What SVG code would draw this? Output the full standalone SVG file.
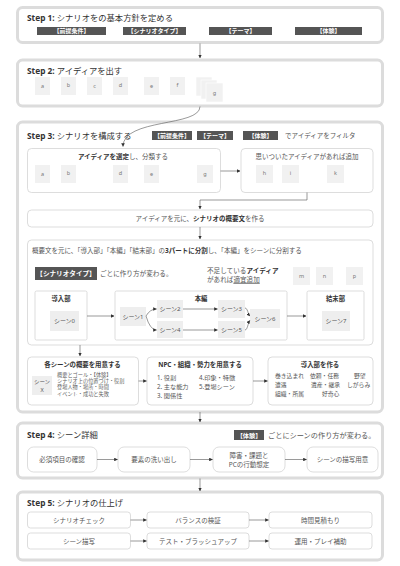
<svg xmlns="http://www.w3.org/2000/svg" width="400" height="566" viewBox="0 0 400 566">
<defs>
<marker id="ah" viewBox="0 0 6 6" refX="5.5" refY="3" markerWidth="3.6" markerHeight="3.6" markerUnits="userSpaceOnUse" orient="auto">
<path d="M0,0 L6,3 L0,6 Z" fill="#333"/>
</marker>
<style>
text{font-family:"Noto Sans","Noto Sans CJK JP",sans-serif;fill:#555}
.step{fill:#fff;stroke:#dcdcdc;stroke-width:3}
.box{fill:#fff;stroke:#cfcfcf;stroke-width:0.7}
.rbox{fill:#fff;stroke:#cfcfcf;stroke-width:0.7}
.card{fill:#f1f1f1}
.scard{fill:#eeeeee}
.tag{fill:#555}
.tagt{fill:#fff;font-weight:bold;text-anchor:middle}
.st{font-size:8.3px;fill:#333}
.stb{font-weight:bold}
.lt{font-size:5.5px;fill:#777;text-anchor:middle}
.t65{font-size:6.5px}
.c{text-anchor:middle}
.b{font-weight:bold;fill:#333}
.sm{font-family:"Liberation Sans","Noto Sans CJK JP",sans-serif;font-size:5.2px;fill:#666}
.con{fill:none;stroke:#555;stroke-width:0.6;marker-end:url(#ah)}
</style>
</defs>
<rect width="400" height="566" fill="#fff"/>

<!-- Step 1 -->
<g id="step1">
<rect class="step" x="17.5" y="7.5" width="365" height="35" rx="5"/>
<text class="st" x="27" y="21"><tspan class="stb">Step 1:</tspan> シナリオをの基本方針を定める</text>
<rect class="tag" x="37" y="27" width="69" height="8"/>
<text class="tagt" x="71.5" y="33.2" font-size="6">【前提条件】</text>
<rect class="tag" x="123" y="27" width="63" height="8"/>
<text class="tagt" x="154.5" y="33.2" font-size="6">【シナリオタイプ】</text>
<rect class="tag" x="209" y="27" width="63" height="8"/>
<text class="tagt" x="240.5" y="33.2" font-size="6">【テーマ】</text>
<rect class="tag" x="295" y="27" width="67" height="8"/>
<text class="tagt" x="328.5" y="33.2" font-size="6">【体験】</text>
</g>

<!-- Step 2 -->
<g id="step2">
<rect class="step" x="17.5" y="60" width="365" height="46" rx="5"/>
<text class="st" x="27" y="74"><tspan class="stb">Step 2:</tspan> アイディアを出す</text>
<rect class="card" x="35" y="77" width="15" height="18"/><text class="lt" x="42.5" y="88">a</text>
<rect class="card" x="61" y="77" width="15" height="18"/><text class="lt" x="68.5" y="87">b</text>
<rect class="card" x="87" y="77" width="15" height="18"/><text class="lt" x="94.5" y="88">c</text>
<rect class="card" x="113" y="77" width="15" height="18"/><text class="lt" x="120.5" y="87">d</text>
<rect class="card" x="144" y="77" width="15" height="18"/><text class="lt" x="151.5" y="88">e</text>
<rect class="card" x="170" y="77" width="15" height="18"/><text class="lt" x="177.5" y="87">f</text>
<rect class="card" x="196" y="77" width="16" height="19" stroke="#fff" stroke-width="0.6"/>
<rect class="card" x="201" y="80" width="16" height="19" stroke="#fff" stroke-width="0.6"/>
<rect class="card" x="206" y="83" width="17" height="19" stroke="#fff" stroke-width="0.6"/>
<text class="lt" x="214.5" y="95">g</text>
</g>

<!-- Step 3 -->
<g id="step3">
<rect class="step" x="17.5" y="122" width="365" height="290" rx="5"/>
<text class="st" x="27" y="139"><tspan class="stb">Step 3:</tspan> シナリオを構成する</text>
<rect class="tag" x="152" y="131" width="40" height="9"/>
<text class="tagt" x="172" y="137.8" font-size="6">【前提条件】</text>
<rect class="tag" x="197" y="131" width="36" height="9"/>
<text class="tagt" x="215" y="137.8" font-size="6">【テーマ】</text>
<rect class="tag" x="243" y="131" width="35" height="9"/>
<text class="tagt" x="260.5" y="137.8" font-size="6">【体験】</text>
<text class="t65" x="285" y="138.3" fill="#666">でアイディアをフィルタ</text>
</g>

<g id="select-box">
<rect class="box" x="27.5" y="148.5" width="193" height="44" rx="4"/>
<text class="t65 c" x="123" y="159"><tspan class="b">アイディアを選定</tspan>し、分類する</text>
<rect class="card" x="35" y="165" width="15" height="18"/><text class="lt" x="42.5" y="176">a</text>
<rect class="card" x="61" y="165" width="15" height="18"/><text class="lt" x="68.5" y="175">b</text>
<rect class="card" x="113" y="165" width="15" height="18"/><text class="lt" x="120.5" y="175">d</text>
<rect class="card" x="144" y="165" width="15" height="18"/><text class="lt" x="151.5" y="176">e</text>
<rect class="card" x="197" y="165" width="16" height="18"/><text class="lt" x="205" y="176">g</text>
</g>

<g id="add-box">
<rect class="box" x="241" y="148.5" width="132" height="44" rx="4"/>
<text class="t65 c" x="307" y="159" fill="#666">思いついたアイディアがあれば追加</text>
<rect class="card" x="256" y="165" width="17" height="18"/><text class="lt" x="264.5" y="175">h</text>
<rect class="card" x="282" y="165" width="17" height="18"/><text class="lt" x="290.5" y="175">i</text>
<rect class="card" x="327" y="165" width="17" height="18"/><text class="lt" x="335.5" y="175">k</text>
</g>

<g id="summary-box">
<rect class="box" x="27.5" y="210" width="345.5" height="17" rx="4"/>
<text class="t65 c" x="200" y="220.8">アイディアを元に、<tspan class="b">シナリオの概要文</tspan>を作る</text>
</g>

<g id="split-box">
<rect class="box" x="27.5" y="240" width="345.5" height="105" rx="4"/>
<text x="32" y="252.5" font-size="6.5">概要文を元に、「導入部」「本編」「結末部」の<tspan class="b">3パートに分割</tspan>し、「本編」をシーンに分割する</text>
<rect class="tag" x="35" y="267" width="62" height="13"/>
<text class="tagt" x="66" y="276" font-size="6.6">【シナリオタイプ】</text>
<text x="100" y="276.3" font-size="6.6" fill="#666">ごとに作り方が変わる。</text>
<text x="207" y="272.5" font-size="6.6" fill="#666">不足している<tspan class="b">アイディア</tspan></text>
<text x="207" y="282" font-size="6.6" fill="#666">があれば<tspan text-decoration="underline">適宜追加</tspan></text>
<rect class="card" x="293" y="267" width="17" height="18"/><text class="lt" x="301.5" y="277.5">m</text>
<rect class="card" x="316" y="267" width="17" height="18"/><text class="lt" x="324.5" y="277.5">n</text>
<rect class="card" x="346" y="267" width="17" height="18"/><text class="lt" x="354.5" y="277.5">p</text>
</g>

<g id="intro">
<rect class="box" x="35" y="291" width="52" height="49" rx="1.5"/>
<text class="c b" x="61" y="300.5" font-size="6.3">導入部</text>
<rect class="scard" x="50" y="311" width="29" height="20"/>
<text class="c" x="64.5" y="323" font-size="6" fill="#666">シーン0</text>
</g>

<g id="main">
<rect class="box" x="115" y="291" width="172" height="49" rx="1.5"/>
<text class="c b" x="201" y="300.5" font-size="6.3">本編</text>
<rect class="scard" x="120" y="307" width="26" height="19"/>
<text class="c" x="133" y="318.5" font-size="6" fill="#666">シーン1</text>
<rect class="scard" x="157" y="300" width="26" height="18"/>
<text class="c" x="170" y="311" font-size="6" fill="#666">シーン2</text>
<rect class="scard" x="157" y="321" width="26" height="17"/>
<text class="c" x="170" y="331.8" font-size="6" fill="#666">シーン4</text>
<rect class="scard" x="218" y="300" width="27" height="18"/>
<text class="c" x="231.5" y="311" font-size="6" fill="#666">シーン3</text>
<rect class="scard" x="218" y="321" width="27" height="17"/>
<text class="c" x="231.5" y="331.8" font-size="6" fill="#666">シーン5</text>
<rect class="scard" x="250" y="309" width="30" height="19"/>
<text class="c" x="265" y="320.5" font-size="6" fill="#666">シーン6</text>
</g>

<g id="ending">
<rect class="box" x="307" y="291" width="57" height="49" rx="1.5"/>
<text class="c b" x="335.5" y="300.5" font-size="6.3">結末部</text>
<rect class="scard" x="322" y="311" width="28" height="20"/>
<text class="c" x="336" y="323" font-size="6" fill="#666">シーン7</text>
</g>

<g id="scene-outline">
<rect class="box" x="27.5" y="357" width="111" height="48" rx="4"/>
<text class="c b" x="82.5" y="366.5" font-size="6.4">各シーンの概要を用意する</text>
<rect class="scard" x="32" y="376" width="20" height="19"/>
<text class="c" x="42" y="384" font-size="5.5" fill="#666">シーン</text>
<text class="c" x="42" y="391.5" font-size="5.5" fill="#666">X</text>
<text class="sm" x="57" y="377">概要とゴール・【体験】</text>
<text class="sm" x="57" y="383.2">シナリオ上の位置づけ・役割</text>
<text class="sm" x="57" y="389.4">登場人物・場所・時間</text>
<text class="sm" x="57" y="395.6">イベント・成功と失敗</text>
</g>

<g id="npc">
<rect class="box" x="147" y="357" width="106" height="48" rx="4"/>
<text class="c b" x="200" y="366.5" font-size="6.4">NPC・組織・勢力を用意する</text>
<text x="157" y="380" font-size="6.2">1. 役割</text>
<text x="157" y="389" font-size="6.2">2. 主な能力</text>
<text x="157" y="398" font-size="6.2">3. 関係性</text>
<text x="199" y="380" font-size="6.2">4.印象・特徴</text>
<text x="199" y="389" font-size="6.2">5.登場シーン</text>
</g>

<g id="intro-make">
<rect class="box" x="268" y="357" width="105" height="48" rx="4"/>
<text class="c b" x="320" y="366.5" font-size="6.4">導入部を作る</text>
<text x="275" y="377.5" font-size="5.8">巻き込まれ</text>
<text x="310" y="377.5" font-size="5.8">依頼・任務</text>
<text x="354" y="377.5" font-size="5.8">野望</text>
<text x="275" y="386.5" font-size="5.8">遭遇</text>
<text x="311" y="386.5" font-size="5.8">遺産・継承</text>
<text x="347" y="386.5" font-size="5.8">しがらみ</text>
<text x="275" y="395.5" font-size="5.8">組織・所属</text>
<text x="322" y="395.5" font-size="5.8">好奇心</text>
</g>

<!-- Step 4 -->
<g id="step4">
<rect class="step" x="17.5" y="423" width="365" height="55" rx="5"/>
<text class="st" x="27" y="438"><tspan class="stb">Step 4:</tspan> シーン詳細</text>
<rect class="tag" x="234" y="430" width="30" height="10"/>
<text class="tagt" x="249" y="437.6" font-size="6.2">【体験】</text>
<text x="268" y="438.3" font-size="7.2" fill="#555">ごとにシーンの作り方が変わる。</text>
</g>
<g id="s4-1"><rect class="rbox" x="27.5" y="447" width="69.5" height="25" rx="6"/><text class="c" x="62" y="462" font-size="6.5">必須項目の確認</text></g>
<g id="s4-2"><rect class="rbox" x="118" y="447" width="72" height="25" rx="6"/><text class="c" x="154" y="462" font-size="6.5">要素の洗い出し</text></g>
<g id="s4-3"><rect class="rbox" x="213" y="447" width="72" height="25" rx="6"/><text class="c" x="249" y="457.5" font-size="6.5">障害・課題と</text><text class="c" x="249" y="467" font-size="6.5">PCの行動想定</text></g>
<g id="s4-4"><rect class="rbox" x="307" y="447" width="71" height="25" rx="6"/><text class="c" x="342.5" y="462" font-size="6.5">シーンの描写用意</text></g>

<!-- Step 5 -->
<g id="step5">
<rect class="step" x="17.5" y="492" width="365" height="68" rx="5"/>
<text class="st" x="27" y="506"><tspan class="stb">Step 5:</tspan> シナリオの仕上げ</text>
</g>
<g id="s5-1"><rect class="rbox" x="27.5" y="512" width="103" height="16" rx="3"/><text class="c" x="79" y="522.5" font-size="6.5">シナリオチェック</text></g>
<g id="s5-2"><rect class="rbox" x="147" y="512" width="102" height="16" rx="3"/><text class="c" x="198" y="522.5" font-size="6.5">バランスの検証</text></g>
<g id="s5-3"><rect class="rbox" x="269" y="512" width="103" height="16" rx="3"/><text class="c" x="320.5" y="522.5" font-size="6.5">時間見積もり</text></g>
<g id="s5-4"><rect class="rbox" x="27.5" y="533" width="103" height="16" rx="3"/><text class="c" x="79" y="543.5" font-size="6.5">シーン描写</text></g>
<g id="s5-5"><rect class="rbox" x="147" y="533" width="102" height="16" rx="3"/><text class="c" x="198" y="543.5" font-size="6.5">テスト・ブラッシュアップ</text></g>
<g id="s5-6"><rect class="rbox" x="269" y="533" width="103" height="16" rx="3"/><text class="c" x="320.5" y="543.5" font-size="6.5">運用・プレイ補助</text></g>

<!-- Connectors -->
<g id="connectors">
<path class="con" d="M200,43.5 V58"/>
<path class="con" d="M200,106.5 C200,127 123,118 123,146.5"/>
<path class="con" d="M220.5,171 H240"/>
<path class="con" d="M307,192.5 V200 H200 V209"/>
<path class="con" d="M200,227 V239"/>
<path class="con" d="M87,316 H114"/>
<path class="con" d="M287,316 H306"/>
<path class="con" d="M146,316 Q150,309 156.5,309"/>
<path class="con" d="M146,316 Q150,330 156.5,330"/>
<path class="con" d="M183,309 H217.5"/>
<path class="con" d="M183,330 H217.5"/>
<path class="con" d="M245,308 C247.5,308 248,314 249.8,316"/>
<path class="con" d="M245,330 C247.5,330 248,323 249.8,320.5"/>
<path class="con" d="M80,345 V356"/>
<path class="con" d="M138.5,381 H146.5"/>
<path class="con" d="M253,381 H267.5"/>
<path class="con" d="M200,412 V422"/>
<path class="con" d="M97,459.5 H117.5"/>
<path class="con" d="M190,459.5 H212.5"/>
<path class="con" d="M285,459.5 H306.5"/>
<path class="con" d="M200,478.5 V491"/>
<path class="con" d="M130.5,520 H146.5"/>
<path class="con" d="M249,520 H268.5"/>
<path class="con" d="M130.5,541 H146.5"/>
<path class="con" d="M249,541 H268.5"/>
</g>
</svg>
